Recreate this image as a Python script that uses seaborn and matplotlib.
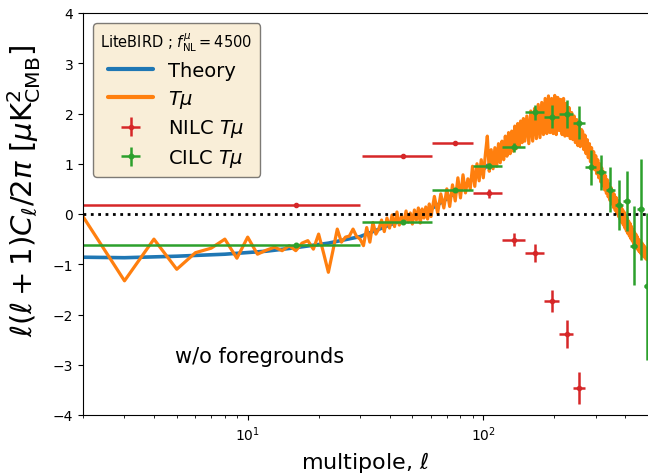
import numpy as np
import matplotlib
matplotlib.use("Agg")
import matplotlib.pyplot as plt
import seaborn as sns

# theory curve
ell_theory = [2, 3, 5, 8, 12, 16, 22, 30, 40, 50, 60, 70, 80, 90, 105, 120, 135, 150,
              165, 180, 195, 210, 225, 240, 255, 270, 285, 300, 315, 330, 345, 360,
              380, 400, 420, 440, 460, 480, 500]
cl_theory = [-0.86, -0.87, -0.84, -0.80, -0.74, -0.67, -0.58, -0.45, -0.22, -0.05, 0.10,
             0.30, 0.50, 0.70, 0.98, 1.20, 1.42, 1.60, 1.75, 1.86, 1.92, 1.93, 1.88, 1.76,
             1.60, 1.40, 1.20, 1.00, 0.80, 0.60, 0.42, 0.25, 0.05, -0.15, -0.33, -0.50,
             -0.63, -0.73, -0.80]

# T mu realisation (orange)
ell_tmu = (list(range(2, 61))
           + list(range(62, 151, 2))
           + list(range(153, 262, 3))
           + list(range(264, 502, 3)))
cl_tmu = [
    # 2 .. 36
    -0.05, -1.33, -0.50, -1.10, -0.77, -0.68, -0.50, -0.88, -0.46, -0.80,
    -0.72, -0.66, -0.73, -0.63, -0.73, -0.58, -0.53, -0.70, -0.40, -0.78,
    -1.16, -0.73, -0.30, -0.56, -0.46, -0.44, -0.30, -0.45, -0.50, -0.63,
    -0.27, -0.56, -0.17, -0.40, -0.30,
    # 37 .. 60
    -0.12, -0.35, -0.08, -0.28, -0.02, -0.25, 0.04, -0.22, -0.05, -0.18,
    0.06, -0.16, 0.02, -0.20, 0.08, -0.12, 0.12, -0.18, 0.10, -0.08,
    0.14, -0.10, 0.20, -0.05,
    # 62 .. 150 (step 2)
    0.35, 0.02, 0.40, 0.12, 0.50, 0.15, 0.58, 0.26, 0.72, 0.32,
    0.78, 0.42, 0.70, 0.50, 0.95, 0.55, 1.00, 0.66, 1.08, 0.72,
    1.18, 1.55, 0.85, 1.28, 0.90, 1.32, 0.95, 1.40, 1.02, 1.45,
    1.08, 1.55, 1.15, 1.62, 1.20, 1.65, 1.25, 1.75, 1.30, 1.80,
    1.35, 1.85, 1.42, 1.90, 1.45,
    # 153 .. 261 (step 3)
    1.95, 1.40, 2.05, 1.45, 2.10, 1.50, 2.18, 1.52, 2.22, 1.58,
    2.30, 1.60, 2.35, 1.62, 2.30, 1.60, 2.36, 1.58, 2.32, 1.66,
    2.28, 1.58, 2.30, 1.55, 2.20, 1.56, 2.12, 1.50, 2.02, 1.48,
    1.95, 1.42, 1.88, 1.36, 1.75, 1.34, 1.68,
    # 264 .. 501 (step 3)
    1.64, 1.28, 1.57, 1.20, 1.48, 1.12, 1.40, 1.04, 1.32, 0.96,
    1.24, 0.88, 1.16, 0.80, 1.08, 0.72, 1.00, 0.64, 0.92, 0.56,
    0.84, 0.48, 0.76, 0.41, 0.68, 0.34, 0.60, 0.27, 0.53, 0.20,
    0.46, 0.13, 0.39, 0.07, 0.33, 0.01, 0.27, -0.05, 0.21, -0.11,
    0.15, -0.17, 0.09, -0.22, 0.04, -0.28, -0.03, -0.34, -0.08, -0.39,
    -0.14, -0.44, -0.19, -0.49, -0.25, -0.54, -0.31, -0.59, -0.36, -0.63,
    -0.40, -0.67, -0.45, -0.71, -0.50, -0.75, -0.53, -0.78, -0.56, -0.81,
    -0.59, -0.84, -0.63, -0.86, -0.66, -0.89, -0.69, -0.91, -0.72, -0.90,
]

# binned estimates
ell_bins = [16, 45.5, 75.5, 105.5, 135.5, 165.5, 195.5, 225.5, 255.5, 285.5,
            315.5, 345.5, 375.5, 405.5, 435.5, 465.5, 495.5]
ell_binerr = [14, 15, 15, 15, 15, 15, 15, 15, 15, 15, 15, 15, 15, 15, 15, 15, 15]

nilc = [0.17, 1.16, 1.41, 0.41, -0.51, -0.78, -1.74, -2.38, -3.47]
nilc_err = [0.02, 0.03, 0.04, 0.09, 0.13, 0.18, 0.22, 0.28, 0.32]

cilc = [-0.61, -0.15, 0.48, 0.95, 1.33, 2.02, 1.94, 1.99, 1.82, 0.93,
        0.83, 0.48, 0.18, 0.26, -0.63, 0.09, -1.44]
cilc_err = [0.02, 0.03, 0.04, 0.06, 0.09, 0.15, 0.22, 0.28, 0.33, 0.35,
            0.35, 0.45, 0.49, 0.60, 0.78, 1.00, 1.46]

sns.set_style("ticks", rc={'text.color': 'black', 'axes.labelcolor': 'black',
                           'xtick.color': 'black', 'ytick.color': 'black',
                           'axes.edgecolor': 'black'})
plt.rcParams['font.family'] = ['DejaVu Sans']

fig = plt.figure(figsize=(6.48, 4.77), dpi=100)
ax = fig.add_axes([83 / 648, 61 / 477, 565 / 648, 402 / 477])

sns.lineplot(x=ell_theory, y=cl_theory, ax=ax, color='#1f77b4', lw=2.6,
             label='Theory', estimator=None, sort=False)
sns.lineplot(x=ell_tmu, y=cl_tmu, ax=ax, color='#ff7f0e', lw=2.3,
             label=r'$T\mu$', estimator=None, sort=False)

n = len(nilc)
ax.errorbar(ell_bins[:n], nilc, xerr=ell_binerr[:n], yerr=nilc_err, fmt='o',
            ms=3, color='#d62728', elinewidth=1.8, label=r'NILC $T\mu$')
ax.errorbar(ell_bins, cilc, xerr=ell_binerr, yerr=cilc_err, fmt='o',
            ms=3.3, color='#2ca02c', elinewidth=1.8, label=r'CILC $T\mu$')

ax.axhline(0, color='black', ls=':', lw=2)

ax.set_xscale('log')
ax.set_xlim(2, 500)
ax.set_ylim(-4, 4)
ax.spines['right'].set_visible(False)
ax.tick_params(labelsize=10)

ax.set_xlabel(r'multipole, $\ell$', fontsize=16)
ax.set_ylabel(r'$\ell(\ell+1)C_\ell/2\pi\ [\mu{\rm K}^2_{\rm CMB}]$', fontsize=21)
ax.yaxis.set_label_coords(-0.07, 0.56)

ax.text(0.163, 0.147, 'w/o foregrounds', transform=ax.transAxes,
        fontsize=15, va='center', ha='left')

leg = ax.legend(loc='upper left', fontsize=14, handlelength=2.3, labelspacing=0.4,
                title=r'LiteBIRD ; $f_{\rm NL}^{\mu}=4500$', title_fontsize=10.5,
                frameon=True, fancybox=True, framealpha=0.5,
                facecolor='wheat', edgecolor='black')
for line in leg.get_lines():
    line.set_linewidth(3)

fig.savefig('out.png', dpi=100)
